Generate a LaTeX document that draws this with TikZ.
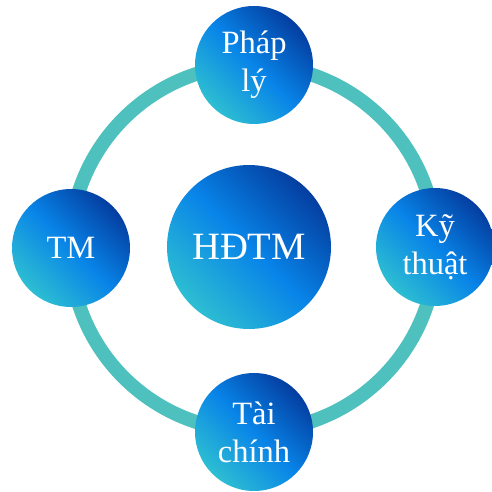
\documentclass[tikz,border=0pt]{standalone}
\usepackage{fontspec}
\setmainfont{Liberation Serif}
\definecolor{ringteal}{RGB}{78,193,190}
\definecolor{deepblue}{RGB}{4,62,160}
\definecolor{midblue}{RGB}{8,132,232}
\definecolor{lightteal}{RGB}{45,190,210}

\begin{document}
\begin{tikzpicture}[x=0.02cm,y=-0.02cm,
        ball/.style={circle,inner sep=0pt,text=white,align=center,
            shading=axis,top color=deepblue,bottom color=lightteal,middle color=midblue,shading angle=-45},
        topic/.style={ball,minimum size=2.36cm,font=\fontsize{18.5}{21.5}\selectfont},
        core/.style={ball,minimum size=3.28cm,font=\fontsize{22}{26}\selectfont},
        loop/.style={circle,draw=ringteal,line width=0.28cm,inner sep=0pt,minimum size=7.32cm}]
        \useasboundingbox (0,0) rectangle (491,492);
        \node [loop] (ring) at (253,248) {};
        \node [core] (hdtm) at (249,247) {HĐTM};
        \node [topic] (phaply) at (254,65) {Pháp\\lý};
        \node [topic] (tm) at (71,248) {TM};
        \node [topic] (kythuat) at (435,247) {Kỹ\\thuật};
        \node [topic] (taichinh) at (254,432) {Tài\\chính};
        \end{tikzpicture}
\end{document}
